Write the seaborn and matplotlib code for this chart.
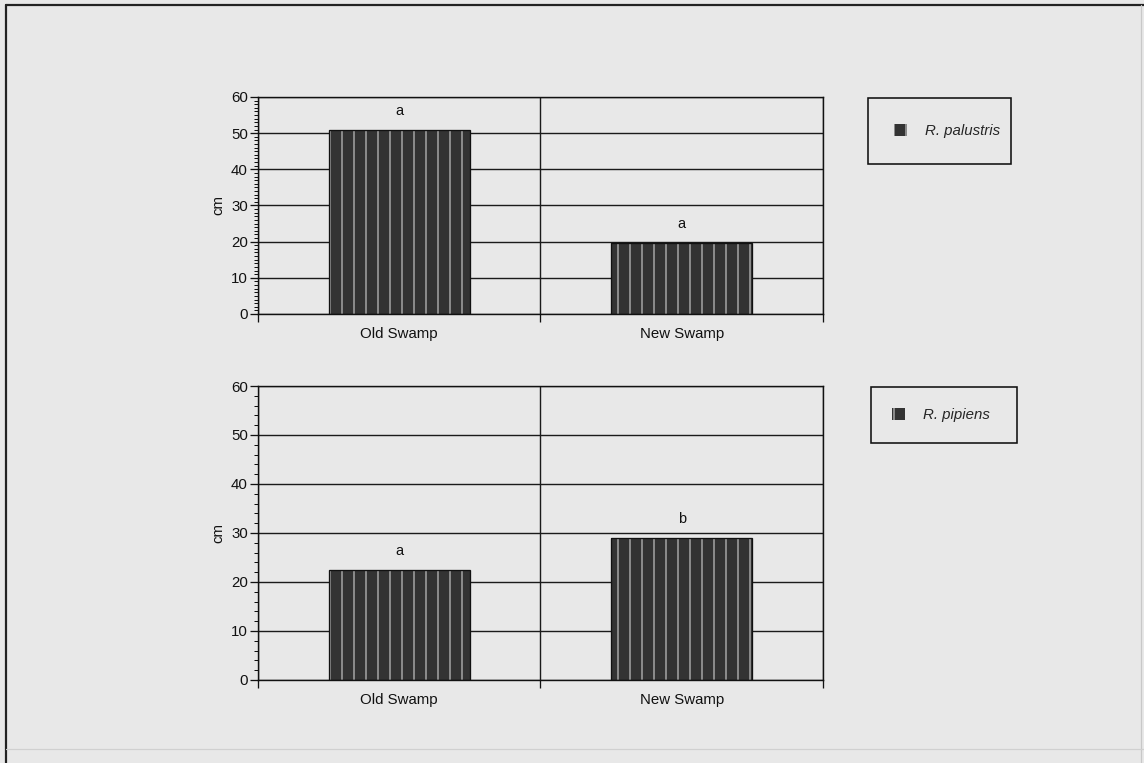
import matplotlib
matplotlib.use("Agg")
import matplotlib.pyplot as plt
import seaborn as sns
from matplotlib.patches import Rectangle
from matplotlib.lines import Line2D
from matplotlib.ticker import MultipleLocator

# data
sites = ["Old Swamp", "New Swamp"]
palustris_cm = [50.8, 19.6]
pipiens_cm = [22.5, 29.0]
palustris_letters = ["a", "a"]
pipiens_letters = ["a", "b"]
species = ["R. palustris", "R. pipiens"]

BG = "#e8e8e8"
INK = "#111111"

sns.set_theme(style="white")
plt.rcParams["font.family"] = ["Liberation Sans", "DejaVu Sans"]
plt.rcParams["hatch.linewidth"] = 1.6
plt.rcParams["axes.facecolor"] = BG
plt.rcParams["figure.facecolor"] = BG

# dpi 72 so that points == pixels
fig = plt.figure(figsize=(1144 / 72, 763 / 72), dpi=72)
ax1 = fig.add_axes([0.2255, 0.5885, 0.4939, 0.2844])
ax2 = fig.add_axes([0.2255, 0.1088, 0.4939, 0.3853])


def draw_panel(ax, values, letters, label, minor_step, leg_box, leg_pad):
    sns.barplot(x=sites, y=values, ax=ax, width=0.5, color="#333333",
                saturation=1, edgecolor="#a0a0a0", linewidth=0, hatch="|")
    # black outline on top of the hatched bars
    for p in list(ax.patches):
        ax.add_patch(Rectangle(p.get_xy(), p.get_width(), p.get_height(),
                               fill=False, edgecolor=INK, lw=1.3, zorder=3))
    for p, txt in zip(ax.patches, letters):
        ax.annotate(txt, (p.get_x() + p.get_width() / 2, p.get_height()),
                    xytext=(0, 12), textcoords="offset points",
                    ha="center", va="bottom", fontsize=14.5, color=INK)

    ax.set_ylim(0, 60)
    ax.set_xlim(-0.5, 1.5)
    ax.yaxis.set_major_locator(MultipleLocator(10))
    ax.yaxis.set_minor_locator(MultipleLocator(minor_step))
    ax.set_xticks([0, 1], labels=sites)
    ax.set_xticks([-0.5, 0.5, 1.5], minor=True)
    ax.tick_params(axis="x", which="major", length=0, pad=13, labelsize=15,
                   colors=INK)
    ax.tick_params(axis="x", which="minor", length=8, width=1.3,
                   direction="out", color=INK, bottom=True)
    ax.tick_params(axis="y", which="major", length=8, width=1.3,
                   direction="out", labelsize=15, colors=INK, left=True, pad=2)
    ax.tick_params(axis="y", which="minor", length=4, width=1,
                   direction="out", color=INK, left=True)
    ax.grid(axis="y", which="major", color="#1a1a1a", lw=1.4)
    ax.grid(axis="x", which="minor", color="#1a1a1a", lw=1.4)
    ax.set_axisbelow(True)
    for s in ax.spines.values():
        s.set_color(INK)
        s.set_linewidth(1.4)
    ax.set_ylabel("cm", fontsize=15, color=INK)
    ax.yaxis.set_label_coords(-0.057, 0.5)
    ax.set_xlabel("")

    leg = fig.legend([ax.patches[0]], [label], loc="upper left",
                     bbox_to_anchor=leg_box, bbox_transform=fig.transFigure,
                     mode="expand", fancybox=False, framealpha=1,
                     facecolor=BG, edgecolor=INK, borderpad=leg_pad,
                     borderaxespad=0, handlelength=0.85, handleheight=0.85,
                     handletextpad=1.2,
                     prop={"style": "italic", "size": 15})
    leg.get_frame().set_linewidth(1.6)


draw_panel(ax1, palustris_cm, palustris_letters, species[0], 1,
           (0.7587, 0.8716, 0.125, 0.0), 1.72)
draw_panel(ax2, pipiens_cm, pipiens_letters, species[1], 2,
           (0.7614, 0.4928, 0.128, 0.0), 1.4)

# scanned page frame
fig.add_artist(Line2D([0.0055, 0.0055], [0.0, 0.994], color="#222222", lw=2.2))
fig.add_artist(Line2D([0.0055, 1.0], [0.994, 0.994], color="#222222", lw=2.2))
fig.add_artist(Line2D([0.997, 0.997], [0.0, 0.994], color="#c8c8c8", lw=1.2))
fig.add_artist(Line2D([0.0055, 1.0], [0.018, 0.018], color="#d0d0d0", lw=1.2))

plt.savefig("out.png", dpi=72, facecolor=BG)
